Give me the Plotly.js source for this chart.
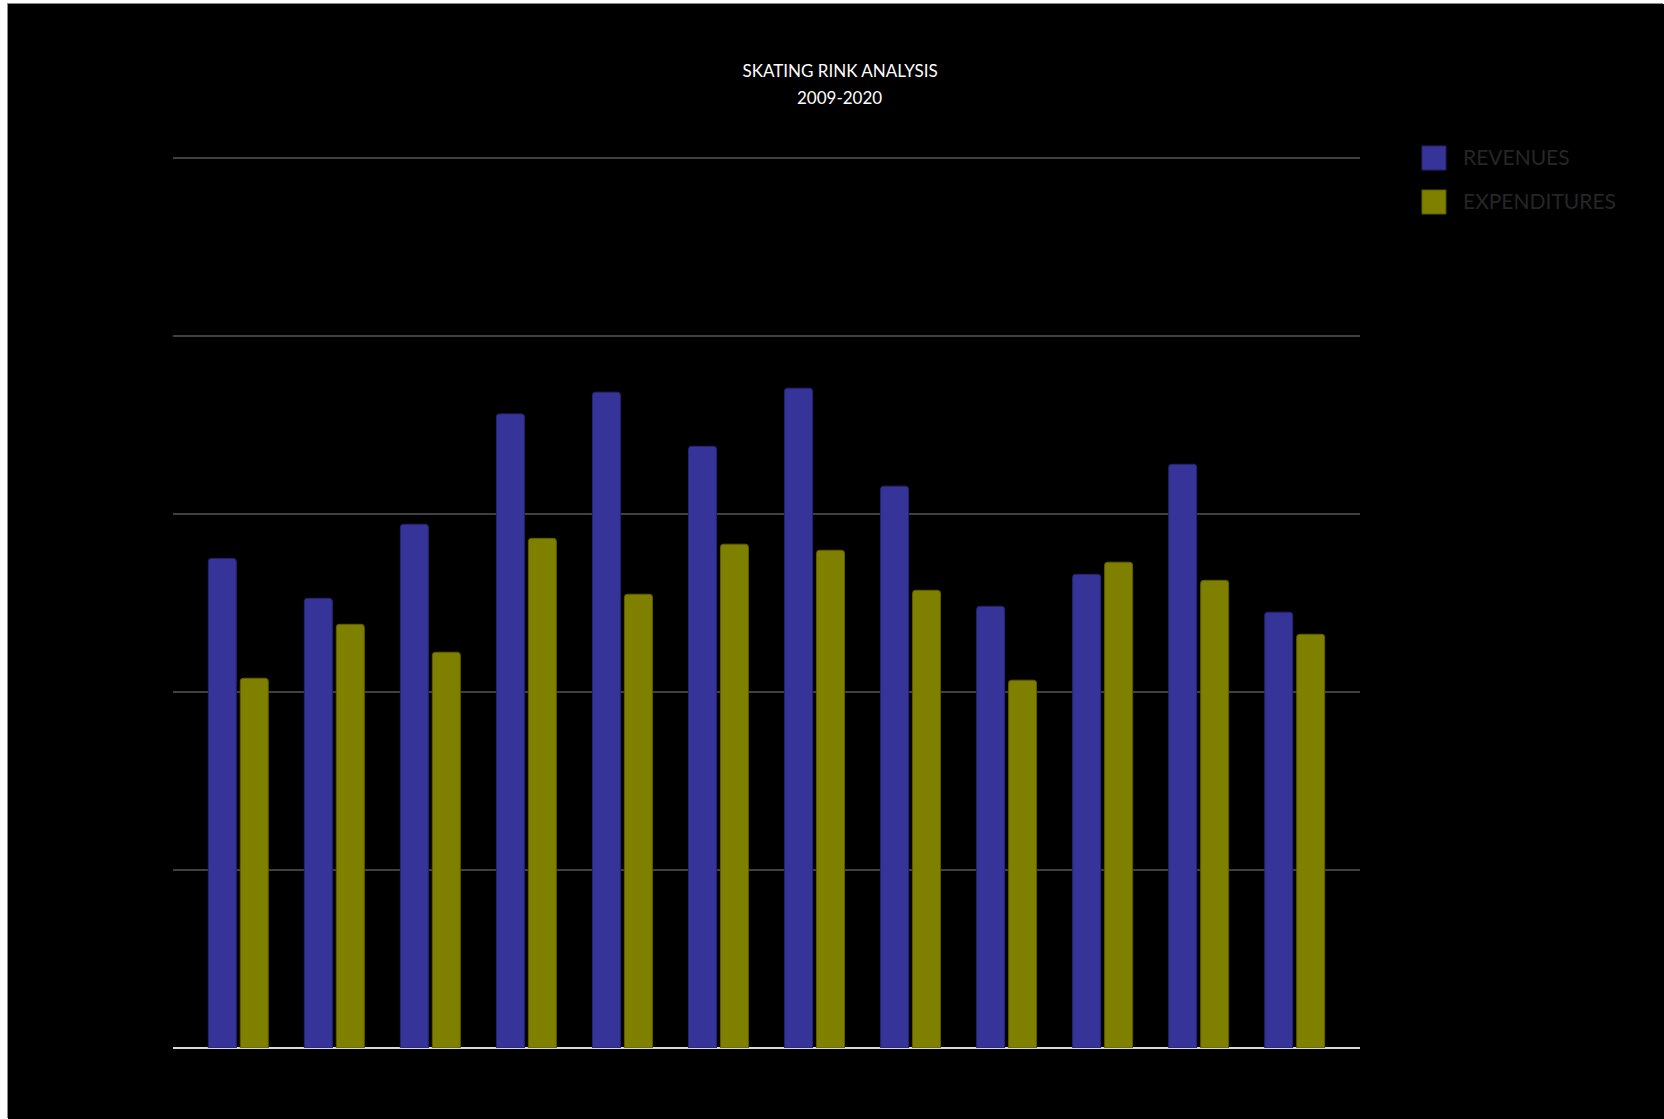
<!DOCTYPE html>
<html>
<head>
<meta charset="utf-8">
<script src="https://cdn.plot.ly/plotly-3.0.1.min.js"></script>
<style>
  html, body { margin: 0; padding: 0; background: #ffffff; width: 1664px; height: 1119px; overflow: hidden; }
  #chart { position: absolute; left: 8px; top: 4px; width: 1656px; height: 1115px; background: #000; box-shadow: -1px -1px 0 #8a8a8a; }
</style>
</head>
<body>
<div id="chart"></div>
<script>
// Data (axis units are relative, no tick labels shown)
const years = ['2009','2010','2011','2012','2013','2014','2015','2016','2017','2018','2019','2020'];
const revenues = [275, 252.6, 294.2, 356.2, 368.4, 338, 370.6, 315.6, 248.1, 266.1, 327.9, 244.8];
const expenditures = [207.7, 238, 222.3, 286.3, 254.9, 283, 279.6, 257.1, 206.6, 272.9, 262.7, 232.4];
const seriesNames = ['REVENUES', 'EXPENDITURES'];
const seriesColors = ['#363399', '#808000'];
const seriesLineColors = ['#26246e', '#5c5c00'];
const titleLines = ['SKATING RINK ANALYSIS', '2009-2020'];

const traces = [
  {
    type: 'bar', name: seriesNames[0], x: years, y: revenues,
    marker: { color: seriesColors[0], line: { color: seriesLineColors[0], width: 1 } },
    showlegend: false, hoverinfo: 'skip'
  },
  {
    type: 'bar', name: seriesNames[1], x: years, y: expenditures,
    marker: { color: seriesColors[1], line: { color: seriesLineColors[1], width: 1 } },
    showlegend: false, hoverinfo: 'skip'
  }
];

const fontFamily = 'Lato, "Open Sans", sans-serif';

// Custom legend (large squares like the reference)
const legendX0 = 1.0522, legendX1 = 1.0724, legendTextX = 1.0850;
const legendRows = [
  { y0: 0.97664, y1: 1.00334, ty: 0.99221 },
  { y0: 0.92770, y1: 0.95439, ty: 0.94327 }
];
const shapes = legendRows.map((r, i) => ({
  type: 'rect', xref: 'paper', yref: 'paper',
  x0: legendX0, x1: legendX1, y0: r.y0, y1: r.y1,
  fillcolor: seriesColors[i], line: { color: seriesLineColors[i], width: 1 }
}));
const annotations = legendRows.map((r, i) => ({
  xref: 'paper', yref: 'paper', x: legendTextX, y: r.ty,
  xanchor: 'left', yanchor: 'middle', showarrow: false,
  text: seriesNames[i],
  font: { family: fontFamily, size: 21, color: '#262626' }
}));
// second title line
annotations.push({
  xref: 'paper', yref: 'paper', x: 0.5614, y: 1.05784,
  xanchor: 'center', yanchor: 'middle', showarrow: false,
  text: titleLines[1],
  font: { family: fontFamily, size: 17, color: '#ffffff' }
});

const layout = {
  width: 1656, height: 1115,
  paper_bgcolor: '#000000', plot_bgcolor: '#000000',
  margin: { l: 165, r: 304, t: 145, b: 71 },
  title: {
    text: titleLines[0],
    x: 0.5025, xref: 'container', xanchor: 'center',
    y: 0.9399, yref: 'container', yanchor: 'middle',
    font: { family: fontFamily, size: 17, color: '#ffffff' }
  },
  barmode: 'group',
  bargap: 0.334,
  bargroupgap: 0.125,
  barcornerradius: 3,
  xaxis: {
    type: 'category', range: [-0.68, 11.68],
    showticklabels: false, showgrid: false, zeroline: false, showline: false, ticks: ''
  },
  yaxis: {
    range: [0, 505], dtick: 100, tick0: 0,
    showticklabels: false, ticks: '',
    showgrid: true, gridcolor: '#404040', gridwidth: 1.5,
    zeroline: true, zerolinecolor: '#d9d9d9', zerolinewidth: 2,
    showline: false
  },
  shapes: shapes,
  annotations: annotations,
  hovermode: false,
  showlegend: false
};

Plotly.newPlot('chart', traces, layout, { displayModeBar: false, staticPlot: true });
</script>
</body>
</html>
